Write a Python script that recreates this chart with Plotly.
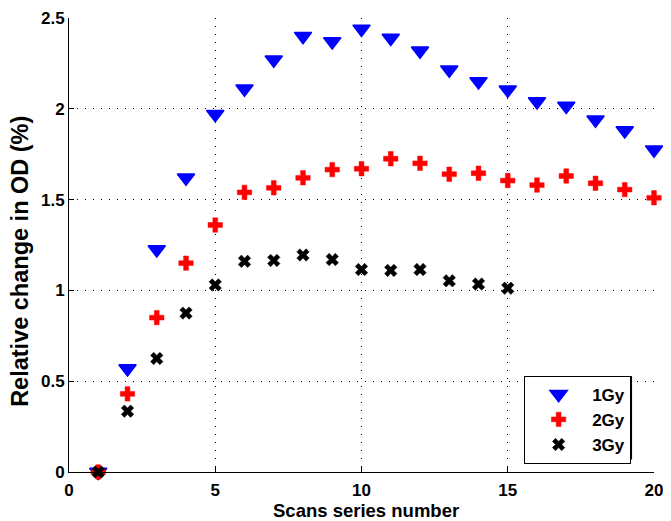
import plotly.graph_objects as go

# ---- data ----
scans = list(range(1, 21))
gy1 = [0.0, 0.57, 1.225, 1.62, 1.97, 2.11, 2.27, 2.40, 2.37, 2.44,
       2.39, 2.32, 2.215, 2.15, 2.105, 2.04, 2.015, 1.94, 1.88, 1.775]
gy2 = [0.0, 0.43, 0.85, 1.15, 1.36, 1.54, 1.565, 1.62, 1.665, 1.67,
       1.725, 1.70, 1.64, 1.645, 1.605, 1.58, 1.63, 1.59, 1.555, 1.51]
scans3 = list(range(1, 16))
gy3 = [0.0, 0.335, 0.625, 0.875, 1.03, 1.16, 1.165, 1.195, 1.17, 1.115,
       1.11, 1.115, 1.053, 1.035, 1.012]

series_names = ["1Gy", "2Gy", "3Gy"]
x_ticks = [0, 5, 10, 15, 20]
y_ticks = [0, 0.5, 1, 1.5, 2, 2.5]
y_tick_text = ["0", "0.5", "1", "1.5", "2", "2.5"]
x_title = "Scans series number"
y_title = "Relative change in OD (%)"

FONT = "Liberation Sans"

fig = go.Figure()
fig.add_trace(go.Scatter(
    x=scans, y=gy1, mode="markers", name=series_names[0], cliponaxis=False,
    marker=dict(symbol="triangle-down", size=15, color="#0000ff",
                line=dict(color="#0000ff", width=1.5)),
))
fig.add_trace(go.Scatter(
    x=scans, y=gy2, mode="markers", name=series_names[1], cliponaxis=False,
    marker=dict(symbol="cross", size=12, color="#ff0000",
                line=dict(color="#ff0000", width=0.5)),
))
fig.add_trace(go.Scatter(
    x=scans3, y=gy3, mode="markers", name=series_names[2], cliponaxis=False,
    marker=dict(symbol="x", size=11, color="#000000",
                line=dict(color="#000000", width=0.5)),
))

axis_common = dict(
    showline=True, linecolor="black", linewidth=1,
    ticks="inside", ticklen=5, tickcolor="black", tickwidth=1,
    showgrid=True, gridcolor="black", gridwidth=1, griddash="1px,7px",
    zeroline=False, mirror=False,
    tickfont=dict(family=FONT, size=17, color="black", weight="bold"),
)

fig.update_xaxes(range=[0, 20], tickvals=x_ticks,
                 ticktext=[str(v) for v in x_ticks],
                 ticklabelstandoff=3, **axis_common)
fig.update_yaxes(range=[0, 2.5], tickvals=y_ticks, ticktext=y_tick_text,
                 **axis_common)

# axis titles as annotations for exact placement
fig.add_annotation(
    text=x_title, xref="paper", yref="paper", x=0.508, y=-0.084,
    xanchor="center", yanchor="middle", showarrow=False,
    font=dict(family=FONT, size=18.5, color="black", weight="bold"),
)
fig.add_annotation(
    text=y_title, xref="paper", yref="paper", x=-0.0838, y=0.465,
    xanchor="center", yanchor="middle", showarrow=False, textangle=-90,
    font=dict(family=FONT, size=23.5, color="black", weight="bold"),
)

# legend drop shadow
fig.add_shape(
    type="rect", xref="paper", yref="paper",
    x0=0.7812, x1=0.9625, y0=0.0275, y1=0.2115,
    fillcolor="black", line=dict(width=0), layer="above",
)

fig.update_layout(
    width=663, height=513,
    margin=dict(l=61, r=17, t=10, b=49, autoexpand=False),
    plot_bgcolor="white", paper_bgcolor="white",
    showlegend=True,
    legend=dict(
        x=0.778, y=0.212, xanchor="left", yanchor="top",
        bgcolor="white", bordercolor="black", borderwidth=1,
        font=dict(family=FONT, size=17, color="black", weight="bold"),
        itemwidth=57,
    ),
)

fig.write_html("out.html")
